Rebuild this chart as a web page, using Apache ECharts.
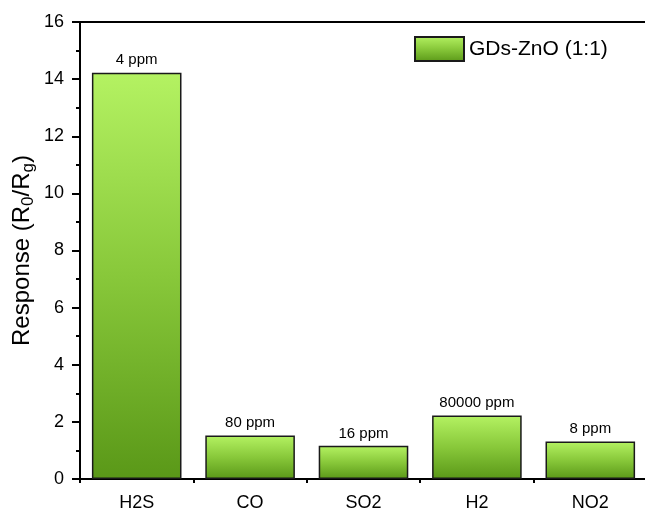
<!DOCTYPE html>
<html>
<head>
<meta charset="utf-8">
<script src="https://cdn.jsdelivr.net/npm/echarts@6/dist/echarts.min.js"></script>
<style>
  html, body { margin: 0; padding: 0; background: #fff; }
  #chart { width: 645px; height: 510px; }
</style>
</head>
<body>
<div id="chart"></div>
<script>
// Gas species tested and sensor response of the GDs-ZnO (1:1) film
const gases = ['H2S', 'CO', 'SO2', 'H2', 'NO2'];
const responses = [14.22, 1.52, 1.16, 2.22, 1.31];
const concentrations = ['4 ppm', '80 ppm', '16 ppm', '80000 ppm', '8 ppm'];
const yTicks = [0, 2, 4, 6, 8, 10, 12, 14, 16];
const seriesName = 'GDs-ZnO (1:1)';

const FONT = 'Liberation Sans, Arial, sans-serif';

const makeFill = () => new echarts.graphic.LinearGradient(0, 0, 0, 1, [
  { offset: 0, color: '#b4f262' },
  { offset: 0.5, color: '#88c83a' },
  { offset: 1, color: '#5a9818' }
]);

const chart = echarts.init(document.getElementById('chart'), null, { renderer: 'canvas' });

chart.setOption({
  backgroundColor: '#ffffff',
  animation: false,
  grid: {
    left: 80, top: 22, width: 567, height: 457,
    containLabel: false,
    outerBoundsMode: 'none'
  },
  legend: {
    data: [{ name: seriesName, icon: 'rect' }],
    left: 414, top: 36,
    padding: 0,
    itemWidth: 49, itemHeight: 24,
    textStyle: { fontFamily: FONT, fontSize: 21, color: '#000' }
  },
  xAxis: [
    {
      type: 'category',
      data: gases,
      position: 'bottom',
      axisLine: { lineStyle: { color: '#000', width: 2 } },
      axisTick: { alignWithLabel: true, length: 8, lineStyle: { color: '#000', width: 2 } },
      axisLabel: { fontFamily: FONT, fontSize: 18, color: '#000', margin: 15 },
      splitLine: { show: false }
    },
    {
      // short ticks on the boundaries between categories
      type: 'category',
      data: gases,
      position: 'bottom',
      axisLine: { show: false },
      axisTick: { show: true, length: 4, lineStyle: { color: '#000', width: 2 } },
      axisLabel: { show: false },
      splitLine: { show: false }
    },
    {
      // top frame line
      type: 'category',
      data: gases,
      position: 'top',
      axisLine: { lineStyle: { color: '#000', width: 2 } },
      axisTick: { show: false },
      axisLabel: { show: false },
      splitLine: { show: false }
    }
  ],
  yAxis: {
    type: 'value',
    min: yTicks[0],
    max: yTicks[yTicks.length - 1],
    interval: 2,
    name: '{n|Response (R}{s|0}{n|/R}{s|g}{n|)}',
    nameLocation: 'middle',
    nameGap: 43,
    nameRotate: 90,
    nameMoveOverlap: false,
    nameTextStyle: {
      rich: {
        n: { fontFamily: FONT, fontSize: 24, color: '#000' },
        s: { fontFamily: FONT, fontSize: 17, color: '#000', verticalAlign: 'bottom', padding: [12, 0, 0, 0] }
      }
    },
    axisLine: { show: true, lineStyle: { color: '#000', width: 2 } },
    axisTick: { show: true, length: 8, lineStyle: { color: '#000', width: 2 } },
    minorTick: { show: true, splitNumber: 2, length: 4, lineStyle: { color: '#000', width: 2 } },
    axisLabel: { fontFamily: FONT, fontSize: 18, color: '#000', margin: 16 },
    splitLine: { show: false }
  },
  series: [{
    name: seriesName,
    type: 'bar',
    xAxisIndex: 0,
    data: responses,
    barWidth: '79%',
    itemStyle: { color: makeFill(), borderColor: '#1a1a1a', borderWidth: 1.5 },
    label: {
      show: true,
      position: 'top',
      distance: 5,
      fontFamily: FONT,
      fontSize: 15,
      color: '#000',
      formatter: p => concentrations[p.dataIndex]
    }
  }]
});
</script>
</body>
</html>
